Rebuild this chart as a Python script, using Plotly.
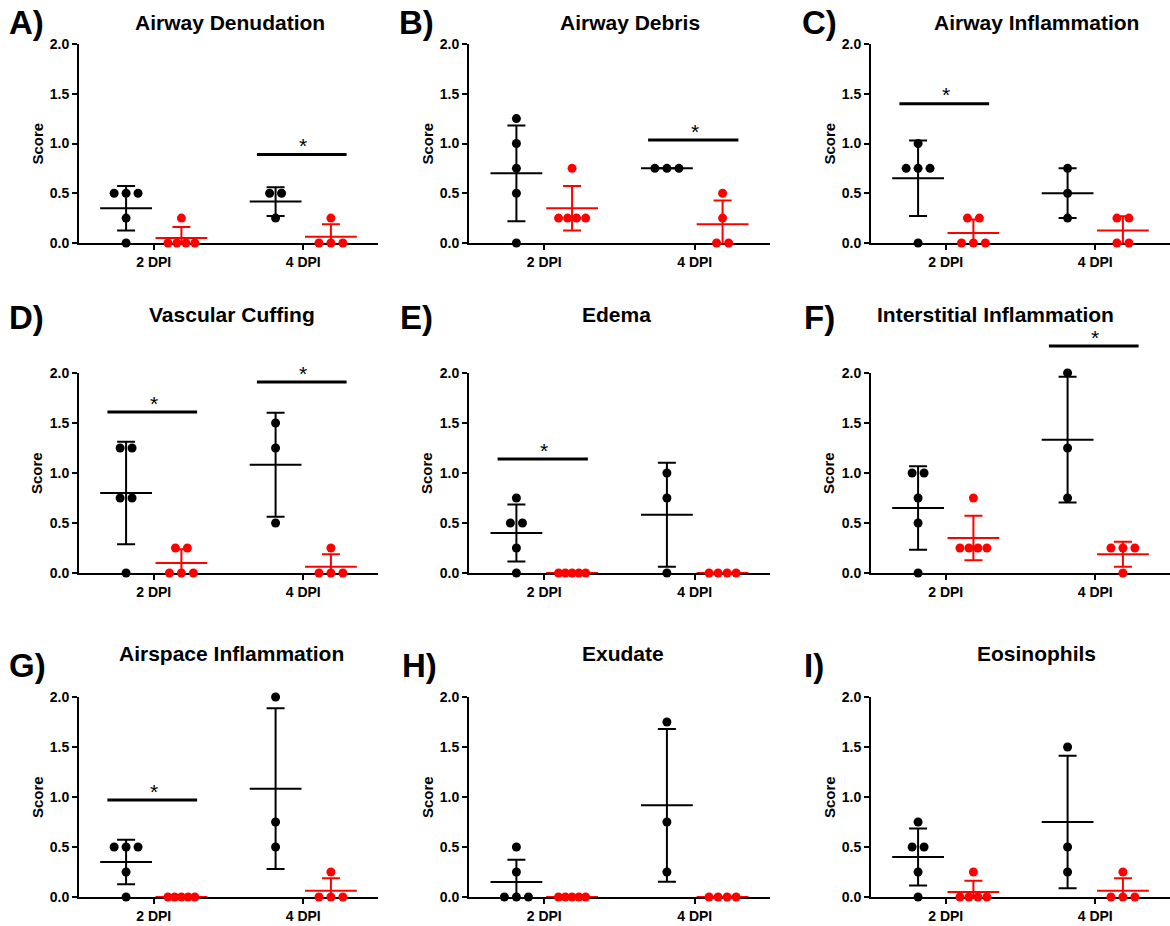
import plotly.graph_objects as go
import numpy as np

# ---------------- data ----------------
categories = ["2 DPI", "4 DPI"]
titles = ["Airway Denudation", "Airway Debris", "Airway Inflammation",
          "Vascular Cuffing", "Edema", "Interstitial Inflammation",
          "Airspace Inflammation", "Exudate", "Eosinophils"]
letters = ["A)", "B)", "C)", "D)", "E)", "F)", "G)", "H)", "I)"]

# each: [values at 2 DPI, values at 4 DPI]
denudation_black = [[0.5, 0.5, 0.5, 0.25, 0.0], [0.5, 0.5, 0.25]]
denudation_red = [[0.25, 0, 0, 0, 0], [0.25, 0, 0, 0]]
debris_black = [[1.25, 1.0, 0.75, 0.5, 0.0], [0.75, 0.75, 0.75]]
debris_red = [[0.75, 0.25, 0.25, 0.25, 0.25], [0.5, 0.25, 0, 0]]
airway_infl_black = [[1.0, 0.75, 0.75, 0.75, 0.0], [0.75, 0.5, 0.25]]
airway_infl_red = [[0.25, 0.25, 0, 0, 0], [0.25, 0.25, 0, 0]]
cuffing_black = [[1.25, 1.25, 0.75, 0.75, 0.0], [1.5, 1.25, 0.5]]
cuffing_red = [[0.25, 0.25, 0, 0, 0], [0.25, 0, 0, 0]]
edema_black = [[0.75, 0.5, 0.5, 0.25, 0.0], [1.0, 0.75, 0.0]]
edema_red = [[0, 0, 0, 0, 0], [0, 0, 0, 0]]
interstitial_black = [[1.0, 1.0, 0.75, 0.5, 0.0], [2.0, 1.25, 0.75]]
interstitial_red = [[0.75, 0.25, 0.25, 0.25, 0.25], [0.25, 0.25, 0.25, 0]]
airspace_black = [[0.5, 0.5, 0.5, 0.25, 0.0], [2.0, 0.75, 0.5]]
airspace_red = [[0, 0, 0, 0, 0], [0.25, 0, 0, 0]]
exudate_black = [[0.5, 0.25, 0, 0, 0], [1.75, 0.75, 0.25]]
exudate_red = [[0, 0, 0, 0, 0], [0, 0, 0, 0]]
eosin_black = [[0.75, 0.5, 0.5, 0.25, 0.0], [1.5, 0.5, 0.25]]
eosin_red = [[0.25, 0, 0, 0, 0], [0.25, 0, 0, 0]]

black_sets = [denudation_black, debris_black, airway_infl_black, cuffing_black,
              edema_black, interstitial_black, airspace_black, exudate_black, eosin_black]
red_sets = [denudation_red, debris_red, airway_infl_red, cuffing_red,
            edema_red, interstitial_red, airspace_red, exudate_red, eosin_red]

# significance bars: (category index, height)
sig_bars = [[(1, 0.89)], [(1, 1.035)], [(0, 1.40)],
            [(0, 1.61), (1, 1.91)], [(0, 1.14)], [(1, 2.27)],
            [(0, 0.97)], [], []]

# ---------------- layout geometry (pixels) ----------------
W, H = 1170, 926
col_px = [(79, 378), (469, 770), (871, 1170)]
row_px = [(44, 243), (373, 573), (697, 897)]
title_x = [230, 630, 1036, 232, 616, 995, 231, 623, 1036]
title_y = [22, 315, 653]
letter_x = [7, 397, 800, 7, 398, 802, 7, 400, 802]
letter_y = [22, 317, 665]

FONT = "Liberation Sans, Arial, sans-serif"
BLACK = "#000000"
RED = "#ff0000"
GROUP_OFF = 0.185
X_RANGE = [0.5, 2.5]
Y_RANGE = [0, 2.0]


def swarm(vals, center):
    xs = []
    counts = {}
    for v in vals:
        counts[v] = counts.get(v, 0) + 1
    seen = {}
    for v in vals:
        n = counts[v]
        i = seen.get(v, 0)
        seen[v] = i + 1
        sp = 0.08 if n <= 1 else min(0.08, 0.18 / (n - 1))
        xs.append(center + (i - (n - 1) / 2) * sp)
    return xs


fig = go.Figure()
annotations = []
shapes = []
layout_axes = {}

for k in range(9):
    r, c = divmod(k, 3)
    sfx = "" if k == 0 else str(k + 1)
    xa, ya = "x" + sfx, "y" + sfx
    x0p, x1p = col_px[c]
    ytop, ybot = row_px[r]
    layout_axes["xaxis" + sfx] = dict(
        domain=[x0p / W, min(1.0, x1p / W)], anchor=ya, range=X_RANGE,
        tickvals=[1, 2], ticktext=categories, showline=True, linecolor=BLACK,
        linewidth=2, ticks="outside", ticklen=5, tickwidth=2, tickcolor=BLACK,
        showgrid=False, zeroline=False, layer="below traces", fixedrange=True,
        automargin=False,
        tickfont=dict(family=FONT, size=14, color=BLACK, weight="bold"))
    layout_axes["yaxis" + sfx] = dict(
        domain=[1 - ybot / H, 1 - ytop / H], anchor=xa, range=Y_RANGE,
        tickvals=[0, 0.5, 1.0, 1.5, 2.0], tickformat=".1f", showline=True,
        linecolor=BLACK, linewidth=2, ticks="outside", ticklen=5, tickwidth=2,
        tickcolor=BLACK, showgrid=False, zeroline=False, layer="below traces",
        fixedrange=True, automargin=False,
        tickfont=dict(family=FONT, size=14, color=BLACK, weight="bold"))

    for sets, color, off in [(black_sets, BLACK, -GROUP_OFF),
                             (red_sets, RED, GROUP_OFF)]:
        for ci in range(2):
            vals = np.array(sets[k][ci], dtype=float)
            center = ci + 1 + off
            mean = vals.mean()
            sd = vals.std(ddof=1)
            fig.add_trace(go.Scatter(
                x=[center], y=[mean], xaxis=xa, yaxis=ya, mode="markers",
                marker=dict(symbol="line-ew", size=37, color=color,
                            line=dict(color=color, width=2)),
                error_y=dict(type="data", array=[sd], color=color,
                             thickness=2, width=9),
                showlegend=False, hoverinfo="skip", cliponaxis=True))
            fig.add_trace(go.Scatter(
                x=swarm(vals, center), y=vals, xaxis=xa, yaxis=ya,
                mode="markers", marker=dict(size=9, color=color),
                showlegend=False, cliponaxis=False))

    for (ci, yv) in sig_bars[k]:
        cx = ci + 1
        fx = lambda v: (v - X_RANGE[0]) / (X_RANGE[1] - X_RANGE[0])
        fy = (yv - Y_RANGE[0]) / (Y_RANGE[1] - Y_RANGE[0])
        shapes.append(dict(
            type="line", xref=xa + " domain", yref=ya + " domain",
            x0=fx(cx - 0.31), x1=fx(cx + 0.29),
            y0=fy, y1=fy, line=dict(color=BLACK, width=3)))
        px_x = x0p + fx(cx) * (x1p - x0p)
        px_y = ybot - fy * (ybot - ytop)
        annotations.append(dict(
            xref="paper", yref="paper", x=px_x / W, y=1 - (px_y - 9) / H,
            text="*", showarrow=False, xanchor="center", yanchor="middle",
            font=dict(family=FONT, size=21, color=BLACK)))

    annotations.append(dict(
        xref="paper", yref="paper", x=title_x[k] / W, y=1 - title_y[r] / H,
        text=titles[k], showarrow=False, xanchor="center", yanchor="middle",
        font=dict(family=FONT, size=21, color=BLACK, weight="bold")))
    annotations.append(dict(
        xref="paper", yref="paper", x=letter_x[k] / W, y=1 - letter_y[r] / H,
        text=letters[k], showarrow=False, xanchor="left", yanchor="middle",
        font=dict(family=FONT, size=33, color=BLACK, weight="bold")))
    annotations.append(dict(
        xref="paper", yref="paper", x=(x0p - 42) / W,
        y=1 - (ytop + ybot) / 2 / H, text="Score", textangle=-90,
        showarrow=False, xanchor="center", yanchor="middle",
        font=dict(family=FONT, size=15, color=BLACK, weight="bold")))

fig.update_layout(
    template="none",
    width=W, height=H, margin=dict(l=0, r=0, t=0, b=0, pad=0, autoexpand=False),
    paper_bgcolor="white", plot_bgcolor="white",
    annotations=annotations, shapes=shapes, showlegend=False,
    **layout_axes)

fig.write_html("out.html", config={"displayModeBar": False},
               post_script="document.body.style.margin='0';"
                           "document.body.style.overflow='hidden';")
